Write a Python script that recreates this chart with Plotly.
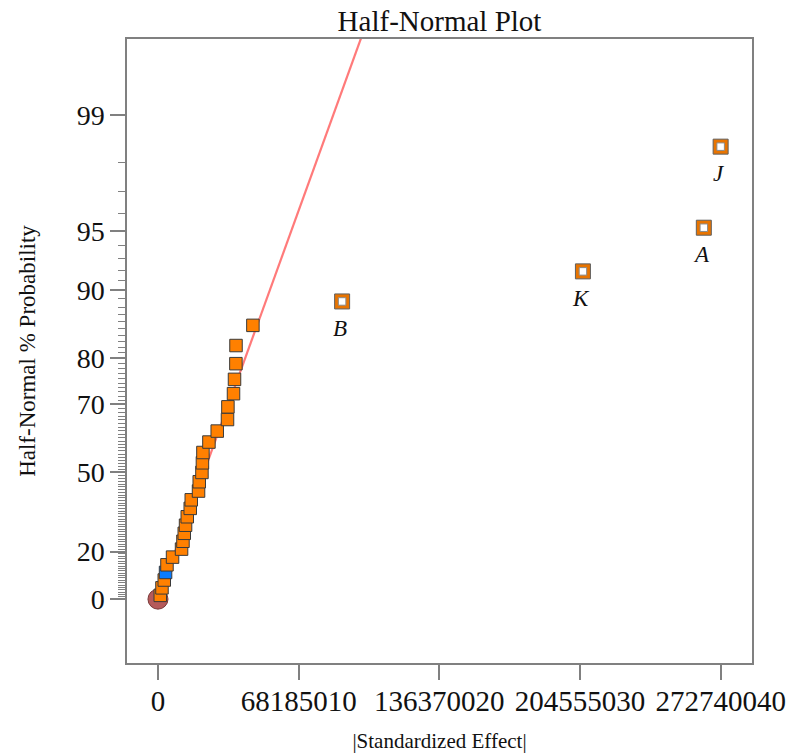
import plotly.graph_objects as go
from statistics import NormalDist

# ---- data ----
# |standardized effect| of the unlabeled effects, ranked (rank 1..27)
effects_small = [1.11e6, 1.94e6, 3.05e6, 3.68e6, 4.36e6, 7.07e6, 11.43e6, 12.11e6,
                 12.74e6, 13.37e6, 14.19e6, 15.64e6, 16.13e6, 19.66e6, 20.0e6,
                 21.31e6, 21.55e6, 21.79e6, 24.70e6, 28.72e6, 33.70e6, 33.90e6,
                 36.61e6, 37.09e6, 37.77e6, 37.82e6, 46.01e6]
pct_small = [1.6, 4.8, 8.1, 11.3, 14.5, 17.7, 21.0, 24.2, 27.4, 30.6, 33.9, 37.1,
             40.3, 43.5, 46.8, 50.0, 53.2, 56.5, 59.7, 62.9, 66.1, 69.4, 72.6,
             75.8, 79.0, 82.3, 85.5]
colors_small = ["orange"] * 27
colors_small[3] = "blue"

# labeled (selected) effects
labels_big = ["B", "K", "A", "J"]
effects_big = [89.25e6, 205.96e6, 264.55e6, 272.7e6]
pct_big = [88.7, 91.9, 95.2, 98.4]

# reference line (through origin)
line_x = [0.0, 98.5e6]
line_pct = [0.0, 99.72]

# axes
x_tickvals = [0, 68185010, 136370020, 204555030, 272740040]
x_ticktext = ["0", "68185010", "136370020", "204555030", "272740040"]
y_major_pct = [0, 20, 50, 70, 80, 90, 95, 99]

# ---- half-normal probability scale ----
nd = NormalDist()
def hz(p):
    return nd.inv_cdf(0.5 + p / 200.0)

col_map = {"orange": "#FF8000", "blue": "#0A7CFF"}
FONT = "Liberation Serif"

fig = go.Figure()

fig.add_trace(go.Scatter(
    x=line_x, y=[hz(p) for p in line_pct], mode="lines",
    line=dict(color="#FF7A7A", width=2.2), hoverinfo="skip", showlegend=False))

# origin circle
fig.add_trace(go.Scatter(
    x=[0], y=[hz(0)], mode="markers",
    marker=dict(symbol="circle", size=20, color="#B55A5A",
                line=dict(color="#7A3A3A", width=1)),
    showlegend=False))

fig.add_trace(go.Scatter(
    x=effects_small, y=[hz(p) for p in pct_small], mode="markers",
    marker=dict(symbol="square", size=12.5, color=[col_map[c] for c in colors_small],
                line=dict(color="#3A3A3A", width=1)),
    showlegend=False))

fig.add_trace(go.Scatter(
    x=effects_big, y=[hz(p) for p in pct_big], mode="markers",
    marker=dict(symbol="square", size=15, color="#E87400",
                line=dict(color="#606060", width=1)),
    showlegend=False))
fig.add_trace(go.Scatter(
    x=effects_big, y=[hz(p) for p in pct_big], mode="markers",
    marker=dict(symbol="square", size=7.5, color="white",
                line=dict(color="#8A8A8A", width=1)),
    showlegend=False))

for lab, xv, pv in zip(labels_big, effects_big, pct_big):
    fig.add_annotation(x=xv, y=hz(pv), text="<i>%s</i>" % lab, showarrow=False,
                       yshift=-27, xshift=-2,
                       font=dict(family=FONT, size=23, color="#111111"))

minor_pct = [p for p in range(1, 99) if p not in y_major_pct]

fig.update_layout(
    width=789, height=754,
    margin=dict(l=127, r=37, t=39, b=91, autoexpand=False),
    paper_bgcolor="white", plot_bgcolor="white",
    title=dict(text="Half-Normal Plot", x=0.5, xref="paper",
               y=1 - 21 / 754, yref="container", yanchor="middle",
               font=dict(family=FONT, size=29, color="#111111"),
               automargin=False),
    xaxis=dict(range=[-15.01e6, 287.9e6], tickmode="array",
               tickvals=x_tickvals, ticktext=x_ticktext, automargin=False,
               ticks="outside", ticklen=15, tickwidth=1.5, tickcolor="#808080",
               ticklabelstandoff=-4,
               showline=True, linecolor="#808080", linewidth=1.5, mirror=True,
               showgrid=False, zeroline=False,
               tickfont=dict(family=FONT, size=29, color="#111111"),
               title=dict(text="|Standardized Effect|", standoff=18,
                          font=dict(family=FONT, size=21, color="#111111"))),
    yaxis=dict(range=[-0.34, 2.982], tickmode="array", automargin=False,
               tickvals=[hz(p) for p in y_major_pct],
               ticktext=[str(p) for p in y_major_pct],
               ticks="outside", ticklen=15, tickwidth=1.5, tickcolor="#808080",
               showline=True, linecolor="#808080", linewidth=1.5, mirror=True,
               showgrid=False, zeroline=False,
               minor=dict(tickmode="array", tickvals=[hz(p) for p in minor_pct],
                          ticks="outside", ticklen=7, tickwidth=1,
                          tickcolor="#808080", showgrid=False),
               tickfont=dict(family=FONT, size=28, color="#111111"),
               title=dict(text="Half-Normal % Probability", standoff=35,
                          font=dict(family=FONT, size=23, color="#111111"))),
)

fig.write_html("out.html", config={"displayModeBar": False},
               post_script="document.body.style.margin='0';document.body.style.padding='0';")
